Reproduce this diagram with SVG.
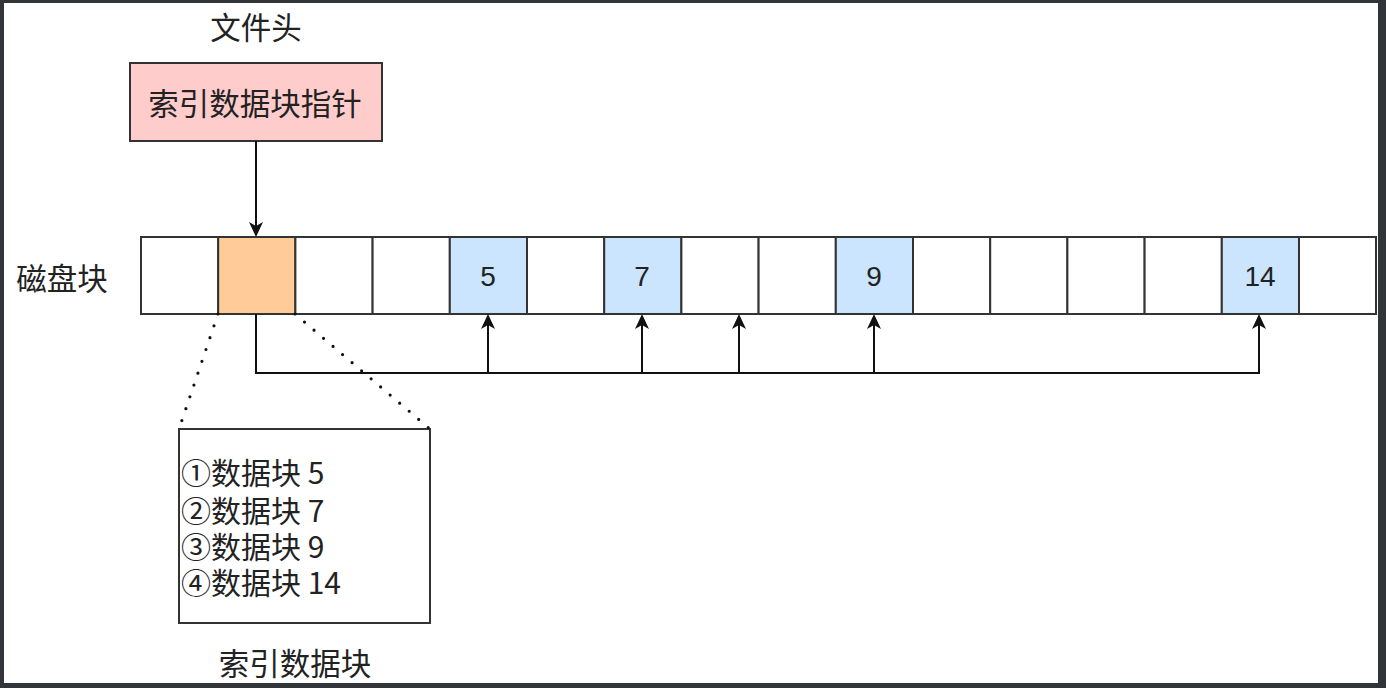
<svg xmlns="http://www.w3.org/2000/svg" xmlns:xlink="http://www.w3.org/1999/xlink" width="1386" height="688" viewBox="0 0 1386 688">
<defs>
<style>
.cell{stroke:#333;stroke-width:2;fill:#fff}
.blue{fill:#cce5ff}
.orange{fill:#ffcc99}
.cjk{font-family:"Noto Sans CJK SC","Liberation Sans",sans-serif;font-size:30.5px;fill:#222}
.lst{font-family:"Noto Sans CJK SC","Liberation Sans",sans-serif;font-size:30px;fill:#222}
.num{font-family:"Liberation Sans","Noto Sans CJK SC",sans-serif;font-size:28px;fill:#222;text-anchor:middle;dominant-baseline:central}
.edge{fill:none;stroke:#111;stroke-width:2}
.dot{fill:none;stroke:#111;stroke-width:3.2;stroke-linecap:round;stroke-dasharray:0 12.5}
.ah{fill:#111}
</style>
<path id="up" class="ah" d="M0 0 L7 15 L0 11 L-7 15 Z"/>
<path id="down" class="ah" d="M0 0 L7 -15 L0 -11 L-7 -15 Z"/>
</defs>
<rect x="0" y="0" width="1386" height="688" fill="#313539"/>
<rect x="4" y="3" width="1374" height="680" fill="#ffffff"/>

<g id="label-header"><text class="cjk" x="256" y="26" text-anchor="middle" dominant-baseline="central">文件头</text></g>
<g id="pointer">
<rect x="130" y="63" width="252" height="78" fill="#ffcccc" stroke="#333" stroke-width="2"/>
<text class="cjk" x="255" y="102" text-anchor="middle" dominant-baseline="central">索引数据块指针</text>
</g>
<g id="label-disk"><text class="cjk" x="62" y="277" text-anchor="middle" dominant-baseline="central">磁盘块</text></g>

<g id="disk-blocks">
<rect class="cell" x="141" y="237" width="77.2" height="77"/>
<rect class="cell orange" x="218.2" y="237" width="77.2" height="77"/>
<rect class="cell" x="295.4" y="237" width="77.2" height="77"/>
<rect class="cell" x="372.6" y="237" width="77.2" height="77"/>
<rect class="cell blue" x="449.8" y="237" width="77.2" height="77"/>
<rect class="cell" x="527" y="237" width="77.2" height="77"/>
<rect class="cell blue" x="604.2" y="237" width="77.2" height="77"/>
<rect class="cell" x="681.4" y="237" width="77.2" height="77"/>
<rect class="cell" x="758.6" y="237" width="77.2" height="77"/>
<rect class="cell blue" x="835.8" y="237" width="77.2" height="77"/>
<rect class="cell" x="913" y="237" width="77.2" height="77"/>
<rect class="cell" x="990.2" y="237" width="77.2" height="77"/>
<rect class="cell" x="1067.4" y="237" width="77.2" height="77"/>
<rect class="cell" x="1144.6" y="237" width="77.2" height="77"/>
<rect class="cell blue" x="1221.8" y="237" width="77.2" height="77"/>
<rect class="cell" x="1299" y="237" width="77" height="77"/>
<text class="num" x="488" y="276">5</text>
<text class="num" x="642" y="276">7</text>
<text class="num" x="874" y="276">9</text>
<text class="num" x="1260" y="276">14</text>
</g>

<g id="index-block">
<rect x="179" y="429" width="251" height="194" fill="#fff" stroke="#333" stroke-width="2"/>
<text class="lst" x="181" y="484"><tspan x="181" y="484">①数据块 5</tspan><tspan x="181" y="522">②数据块 7</tspan><tspan x="181" y="558">③数据块 9</tspan><tspan x="181" y="594">④数据块 14</tspan></text>
</g>
<g id="label-index"><text class="cjk" x="295" y="662" text-anchor="middle" dominant-baseline="central">索引数据块</text></g>

<g id="connectors">
<path class="edge" d="M256 141 V228"/>
<path class="edge" d="M256 314 V373 H488 V323"/>
<path class="edge" d="M256 373 H642 V323"/>
<path class="edge" d="M256 373 H739 V323"/>
<path class="edge" d="M256 373 H874 V323"/>
<path class="edge" d="M874 373 H1259 V323" stroke-width="1.5"/>
<use xlink:href="#down" x="256" y="237"/>
<use xlink:href="#up" x="488" y="314"/>
<use xlink:href="#up" x="642" y="314"/>
<use xlink:href="#up" x="739" y="314"/>
<use xlink:href="#up" x="874" y="314"/>
<use xlink:href="#up" x="1259" y="314"/>
<path class="dot" d="M218 314 L179 429"/>
<path class="dot" d="M295 314 L430 429"/>
</g>
</svg>
